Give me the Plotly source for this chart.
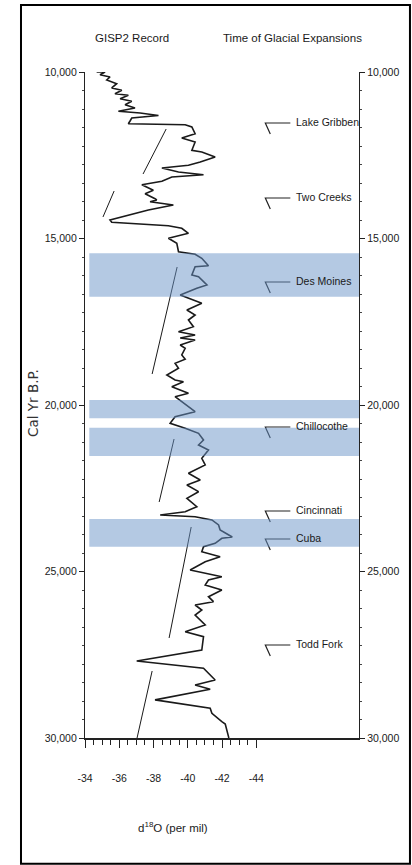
import plotly.graph_objects as go

# ---------------- data ----------------
# GISP2 d18O record (per mil) vs calendar years B.P.
d18o = [-34.68, -35.17, -34.88, -35.46, -35.27, -35.85, -35.56, -36.15, -35.75, -36.53,
        -36.05, -36.73, -36.34, -36.92, -35.95, -37.22, -38.29, -36.73, -36.63, -36.53,
        -39.85, -40.24, -40.43, -39.65, -40.43, -40.24, -40.82, -41.60, -40.73, -40.04,
        -38.49, -39.46, -40.92, -39.07, -38.49, -37.32, -37.99, -37.51, -38.09, -38.19,
        -37.80, -39.16, -37.70, -36.53, -35.46, -35.56, -37.90, -38.87, -39.65, -40.04,
        -38.87, -39.36, -39.46, -40.43, -40.82, -41.21, -40.43, -40.24, -40.63, -41.12,
        -40.53, -39.56, -40.82, -39.95, -40.43, -40.04, -40.33, -39.46, -40.43, -39.56,
        -40.43, -39.56, -39.85, -39.65, -39.85, -39.26, -39.46, -38.78, -39.26, -39.75,
        -39.07, -40.04, -39.26, -40.43, -39.26, -38.97, -39.85, -40.63, -40.92, -40.63,
        -41.21, -40.82, -41.02, -40.04, -40.73, -39.95, -40.63, -39.95, -40.53, -39.85,
        -38.39, -40.43, -41.41, -41.80, -41.89, -42.60, -41.99, -41.60, -40.92, -40.82,
        -41.89, -41.02, -40.14, -41.99, -41.21, -41.02, -41.99, -41.21, -41.50, -40.43,
        -40.82, -40.43, -41.02, -39.85, -40.92, -40.82, -37.02, -40.92, -41.60, -40.43,
        -41.31, -38.09, -41.31, -41.41, -41.99, -42.19, -42.38, -42.40]
years = [10000, 10000, 10081, 10150, 10240, 10351, 10480, 10550, 10652, 10700,
         10802, 10880, 10982, 11081, 11180, 11231, 11306, 11381, 11471, 11553,
         11583, 11652, 11853, 11982, 12102, 12351, 12402, 12553, 12703, 12802,
         12883, 13003, 13084, 13153, 13282, 13384, 13553, 13655, 13805, 13844,
         13895, 13994, 14144, 14294, 14444, 14513, 14574, 14616, 14694, 14844,
         14994, 15144, 15396, 15474, 15595, 15817, 15847, 16096, 16147, 16396,
         16495, 16697, 16946, 17147, 17297, 17447, 17648, 17799, 17898, 17988,
         18048, 18198, 18297, 18498, 18627, 18748, 18898, 19099, 19249, 19300,
         19450, 19649, 19751, 20201, 20351, 20549, 20700, 20850, 21051, 21201,
         21351, 21600, 21802, 22051, 22252, 22402, 22603, 22801, 23053, 23204,
         23303, 23354, 23453, 23603, 23754, 23964, 24003, 24153, 24255, 24405,
         24555, 24705, 24955, 25156, 25255, 25405, 25555, 25756, 25906, 26006,
         26156, 26306, 26606, 26807, 26957, 27357, 27687, 27906, 28258, 28408,
         28537, 28856, 29108, 29258, 29510, 29579, 29960, 30000]

# thin sloping trend segments (start/end)
trend_x0 = [-38.74, -35.70, -39.38, -39.20, -40.20, -37.92]
trend_y0 = [11712, 13574, 15856, 21021, 23664, 27988]
trend_x1 = [-37.39, -35.05, -37.92, -38.33, -38.91, -37.04]
trend_y1 = [13063, 14354, 19069, 22913, 26997, 30000]

# shaded intervals (years B.P.)
band_start = [15445, 19850, 20682, 23423]
band_end = [16748, 20400, 21532, 24255]

# glacial expansions
glacial_names = ["Lake Gribben", "Two Creeks", "Des Moines", "Chillocothe",
                 "Cincinnati", "Cuba", "Todd Fork"]
glacial_years = [11532, 13784, 16306, 20661, 23183, 24024, 27207]

x_tickvals = [-34, -36, -38, -40, -42, -44]
x_ticktext = ["-34", "-36", "-38", "-40", "-42", "-44"]
y_tickvals = [10000, 15000, 20000, 25000, 30000]

# ---------------- figure ----------------
NARROW = "Liberation Sans Narrow, Arial Narrow, Liberation Sans, Arial, sans-serif"
INK = "#1a1a1a"
fig = go.Figure()

fig.add_trace(go.Scatter(x=d18o, y=years, mode="lines",
                         line=dict(color=INK, width=1.6), hoverinfo="skip",
                         showlegend=False))

tx, ty = [], []
for a, b, c, d in zip(trend_x0, trend_y0, trend_x1, trend_y1):
    tx += [a, c, None]
    ty += [b, d, None]
fig.add_trace(go.Scatter(x=tx, y=ty, mode="lines", line=dict(color=INK, width=1),
                         hoverinfo="skip", showlegend=False))

# glacial bracket markers
H0, H1, DX, DY = -44.53, -45.99, -44.82, 330
gx, gy = [], []
for yr in glacial_years:
    gx += [H1, H0, DX, None]
    gy += [yr, yr, yr + DY, None]
fig.add_trace(go.Scatter(x=gx, y=gy, mode="lines", line=dict(color="#222222", width=1.2),
                         hoverinfo="skip", showlegend=False))

# dummy trace for right axis
fig.add_trace(go.Scatter(x=[None], y=[None], yaxis="y2", showlegend=False))

for s, e in zip(band_start, band_end):
    fig.add_shape(type="rect", xref="x", yref="y", x0=-34.25, x1=-50, y0=s, y1=e,
                  fillcolor="rgba(105,148,200,0.5)", line_width=0, layer="above")

for name, yr in zip(glacial_names, glacial_years):
    fig.add_annotation(x=-46.2, y=yr - 40, text=name, showarrow=False, xanchor="left",
                       yanchor="middle", font=dict(family=NARROW, size=10.5, color=INK))

fig.add_annotation(xref="paper", yref="paper", x=0.1715, y=1.051, text="GISP2 Record",
                   showarrow=False, xanchor="center", yanchor="middle",
                   font=dict(family=NARROW, size=11.5, color=INK))
fig.add_annotation(xref="paper", yref="paper", x=0.759, y=1.051,
                   text="Time of Glacial Expansions", xanchor="center", yanchor="middle",
                   showarrow=False, font=dict(family=NARROW, size=11.5, color=INK))
fig.add_annotation(xref="paper", yref="paper", x=-0.19, y=0.503, text="Cal Yr B.P.",
                   textangle=-90, showarrow=False, xanchor="center", yanchor="middle",
                   font=dict(family="DejaVu Sans, Verdana, sans-serif", size=13.5,
                             color="#333333"))
fig.add_annotation(xref="paper", yref="paper", x=0.321, y=-0.1336,
                   text="d<sup>18</sup>O (per mil)", showarrow=False,
                   xanchor="center", yanchor="middle",
                   font=dict(family=NARROW, size=11.5, color=INK))

# outer frame
fig.add_shape(type="rect", xref="paper", yref="paper", x0=-0.2336, x1=1.186,
              y0=-0.189, y1=1.1006, line=dict(color="#000000", width=2), layer="above")

tickfont = dict(family=NARROW, size=10.5, color=INK)
fig.update_layout(
    width=412, height=865,
    margin=dict(l=85, r=53, t=72, b=127),
    paper_bgcolor="white", plot_bgcolor="white",
    showlegend=False,
    xaxis=dict(range=[-34, -50], showgrid=False, zeroline=False, showline=True,
               linecolor="#222222", linewidth=1.6,
               tickmode="array", tickvals=x_tickvals, ticktext=x_ticktext,
               ticks="outside", ticklen=8, tickcolor="#222222", tickwidth=1,
               ticklabelstandoff=22, tickfont=tickfont,
               minor=dict(tickmode="array",
                          tickvals=[-34 - 0.5 * i for i in range(21)],
                          ticks="outside", ticklen=5, tickcolor="#222222")),
    yaxis=dict(range=[30000, 10000], showgrid=False, zeroline=False, showline=True,
               linecolor="#222222", linewidth=1.2,
               tickmode="array", tickvals=y_tickvals, tickformat=",",
               ticks="outside", ticklen=5, tickcolor="#222222", tickfont=tickfont,
               minor=dict(tickmode="linear", tick0=10000, dtick=5000 / 9,
                          ticks="outside", ticklen=2, tickcolor="#444444")),
    yaxis2=dict(range=[30000, 10000], overlaying="y", side="right", showgrid=False,
                zeroline=False, showline=True, linecolor="#222222", linewidth=1.2,
                tickmode="array", tickvals=y_tickvals, tickformat=",",
                ticks="outside", ticklen=5, tickcolor="#222222", tickfont=tickfont,
                minor=dict(tickmode="linear", tick0=10000, dtick=5000 / 9,
                           ticks="outside", ticklen=2, tickcolor="#444444")),
)

fig.write_html("out.html", config={"displayModeBar": False},
               post_script="document.body.style.margin='0';"
                           "document.body.style.overflow='hidden';")
